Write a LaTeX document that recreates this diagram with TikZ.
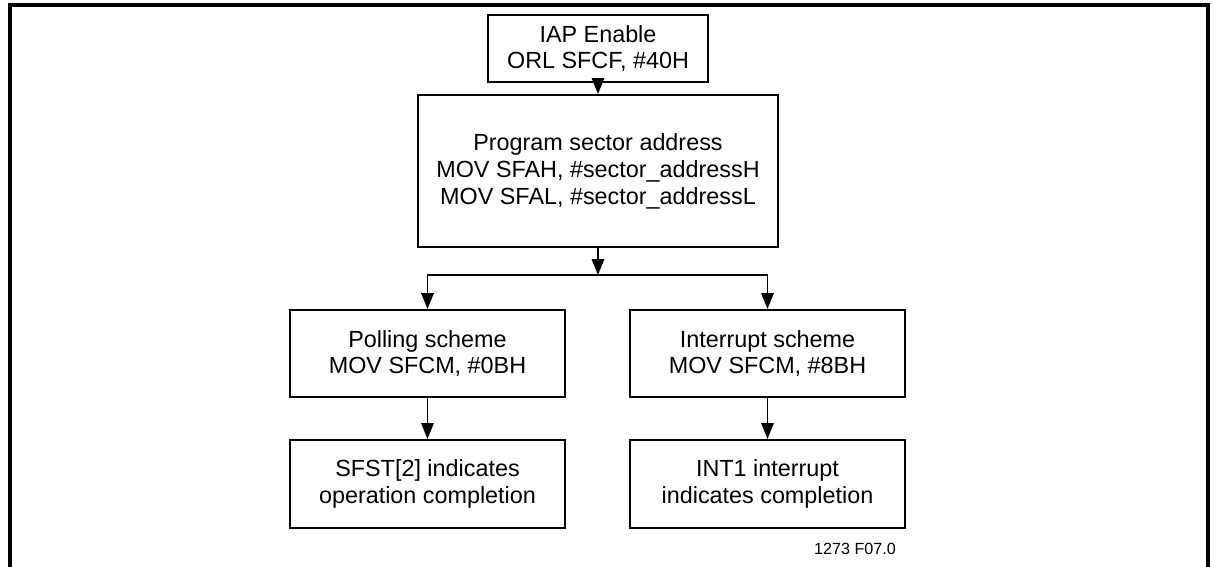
\documentclass[tikz,border=0pt]{standalone}
\usepackage{fontspec}
\setmainfont{Liberation Sans}
\usetikzlibrary{arrows.meta}
\tikzset{
  stepbox/.style={draw, line width=1.1pt, align=center, font=\fontsize{13.3}{15.3}\selectfont, inner sep=0pt},
  flow/.style={-{Triangle[length=9pt,width=7pt]}, line width=1.1pt}
}
\begin{document}
\begin{tikzpicture}[x=0.02cm, y=-0.02cm]
\useasboundingbox (0,0) rectangle (1215,567);
\draw[line width=1.8pt] (10,567) -- (10,5) -- (1208,5) -- (1208,567);
\node[stepbox, minimum width=220*0.02cm, minimum height=67*0.02cm] (iap) at (598,48.5) {IAP Enable\\ORL SFCF, \#40H};
\node[stepbox, minimum width=360*0.02cm, minimum height=152*0.02cm] (addr) at (598,171) {Program sector address\\MOV SFAH, \#sector\_addressH\\MOV SFAL, \#sector\_addressL};
\node[stepbox, minimum width=275*0.02cm, minimum height=87*0.02cm] (poll) at (427.5,353.5) {Polling scheme\\MOV SFCM, \#0BH};
\node[stepbox, minimum width=275*0.02cm, minimum height=87*0.02cm] (intr) at (767.5,353.5) {Interrupt scheme\\MOV SFCM, \#8BH};
\node[stepbox, minimum width=275*0.02cm, minimum height=88*0.02cm] (sfst) at (427.5,484) {SFST[2] indicates\\operation completion};
\node[stepbox, minimum width=275*0.02cm, minimum height=88*0.02cm] (int1) at (767.5,484) {INT1 interrupt\\indicates completion};
\node[font=\fontsize{9.2}{11}\selectfont] (fig) at (855,549) {1273 F07.0};
\coordinate (split) at (598,275);
\draw[flow] (iap) -- (addr);
\draw[flow] (addr) -- (split);
\draw[flow] (split) -| (poll);
\draw[flow] (split) -| (intr);
\draw[flow] (poll) -- (sfst);
\draw[flow] (intr) -- (int1);
\end{tikzpicture}
\end{document}
